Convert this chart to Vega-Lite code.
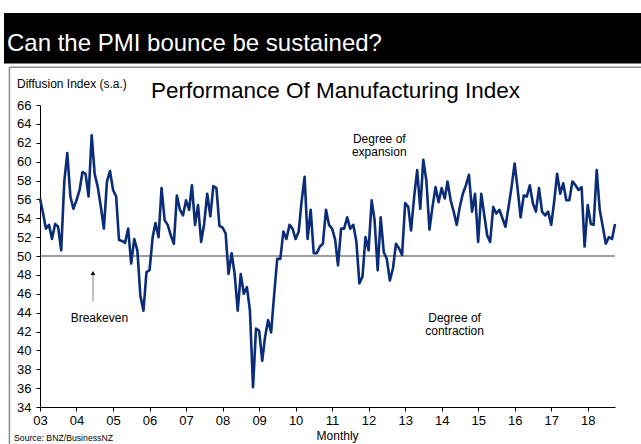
{
  "$schema": "https://vega.github.io/schema/vega-lite/v6.json",
  "width": 575,
  "height": 302,
  "autosize": {"type": "none"},
  "padding": {"left": 40, "top": 105, "right": 26, "bottom": 37},
  "background": "white",
  "config": {
    "font": "Liberation Sans",
    "view": {"stroke": null},
    "axis": {
      "grid": false,
      "title": null,
      "labelFont": "Liberation Sans",
      "labelFontSize": 13,
      "labelColor": "#000000",
      "labelOverlap": false,
      "labelFlush": false,
      "domainColor": "#000000",
      "domainWidth": 1,
      "tickColor": "#000000",
      "tickSize": 4
    }
  },
  "layer": [
    {
      "data": {"values": [{}]},
      "mark": {"type": "rect", "color": "#000000"},
      "encoding": {
        "x": {"datum": {"year": 2002, "month": 1, "date": 6, "utc": true}, "type": "temporal"},
        "x2": {"datum": {"year": 2019, "month": 12, "date": 1, "utc": true}},
        "y": {"datum": 75.75, "type": "quantitative"},
        "y2": {"datum": 70.4}
      }
    },
    {
      "data": {"values": [{}]},
      "mark": {"type": "text", "text": "Can the PMI bounce be sustained?", "color": "#ffffff", "fontSize": 24, "align": "left", "baseline": "alphabetic"},
      "encoding": {
        "x": {"datum": {"year": 2002, "month": 2, "date": 5, "utc": true}, "type": "temporal"},
        "y": {"datum": 71.77, "type": "quantitative"}
      }
    },
    {
      "data": {"values": [{}]},
      "mark": {"type": "rule", "color": "#8c8c8c", "strokeWidth": 1.5},
      "encoding": {
        "x": {"datum": {"year": 2002, "month": 3, "date": 1, "utc": true}, "type": "temporal"},
        "x2": {"datum": {"year": 2019, "month": 12, "date": 1, "utc": true}},
        "y": {"datum": 70.0, "type": "quantitative"}
      }
    },
    {
      "data": {"values": [{}]},
      "mark": {"type": "rule", "color": "#8c8c8c", "strokeWidth": 1.5},
      "encoding": {
        "x": {"datum": {"year": 2002, "month": 3, "date": 1, "utc": true}, "type": "temporal"},
        "y": {"datum": 70.0, "type": "quantitative"},
        "y2": {"datum": 29.0}
      }
    },
    {
      "data": {"values": [{}]},
      "mark": {"type": "rule", "color": "#404040", "strokeWidth": 1.2},
      "encoding": {
        "x": {"datum": {"year": 2003, "month": 1, "date": 1, "utc": true}, "type": "temporal"},
        "x2": {"datum": {"year": 2018, "month": 10, "date": 1, "utc": true}},
        "y": {"datum": 50, "type": "quantitative"}
      }
    },
    {
      "data": {
        "values": [
          {"month": "2003-01-01", "pmi": 56.1}, {"month": "2003-02-01", "pmi": 54.5}, {"month": "2003-03-01", "pmi": 52.9}, {"month": "2003-04-01", "pmi": 53.3},
          {"month": "2003-05-01", "pmi": 51.8}, {"month": "2003-06-01", "pmi": 53.4}, {"month": "2003-07-01", "pmi": 53.1}, {"month": "2003-08-01", "pmi": 50.6},
          {"month": "2003-09-01", "pmi": 57.9}, {"month": "2003-10-01", "pmi": 60.9}, {"month": "2003-11-01", "pmi": 56.3}, {"month": "2003-12-01", "pmi": 55.0},
          {"month": "2004-01-01", "pmi": 55.9}, {"month": "2004-02-01", "pmi": 57.0}, {"month": "2004-03-01", "pmi": 58.9}, {"month": "2004-04-01", "pmi": 58.7},
          {"month": "2004-05-01", "pmi": 56.3}, {"month": "2004-06-01", "pmi": 62.8}, {"month": "2004-07-01", "pmi": 58.7}, {"month": "2004-08-01", "pmi": 57.3},
          {"month": "2004-09-01", "pmi": 55.2}, {"month": "2004-10-01", "pmi": 52.9}, {"month": "2004-11-01", "pmi": 57.9}, {"month": "2004-12-01", "pmi": 59.0},
          {"month": "2005-01-01", "pmi": 57.0}, {"month": "2005-02-01", "pmi": 56.3}, {"month": "2005-03-01", "pmi": 51.7}, {"month": "2005-04-01", "pmi": 51.6},
          {"month": "2005-05-01", "pmi": 51.4}, {"month": "2005-06-01", "pmi": 52.9}, {"month": "2005-07-01", "pmi": 49.2}, {"month": "2005-08-01", "pmi": 51.8},
          {"month": "2005-09-01", "pmi": 50.6}, {"month": "2005-10-01", "pmi": 45.8}, {"month": "2005-11-01", "pmi": 44.2}, {"month": "2005-12-01", "pmi": 48.3},
          {"month": "2006-01-01", "pmi": 48.5}, {"month": "2006-02-01", "pmi": 52.0}, {"month": "2006-03-01", "pmi": 53.5}, {"month": "2006-04-01", "pmi": 52.0},
          {"month": "2006-05-01", "pmi": 57.2}, {"month": "2006-06-01", "pmi": 53.8}, {"month": "2006-07-01", "pmi": 53.3}, {"month": "2006-08-01", "pmi": 52.2},
          {"month": "2006-09-01", "pmi": 51.3}, {"month": "2006-10-01", "pmi": 56.4}, {"month": "2006-11-01", "pmi": 54.9}, {"month": "2006-12-01", "pmi": 54.3},
          {"month": "2007-01-01", "pmi": 55.9}, {"month": "2007-02-01", "pmi": 54.9}, {"month": "2007-03-01", "pmi": 57.5}, {"month": "2007-04-01", "pmi": 53.3},
          {"month": "2007-05-01", "pmi": 55.4}, {"month": "2007-06-01", "pmi": 51.5}, {"month": "2007-07-01", "pmi": 53.4}, {"month": "2007-08-01", "pmi": 56.6},
          {"month": "2007-09-01", "pmi": 54.2}, {"month": "2007-10-01", "pmi": 57.4}, {"month": "2007-11-01", "pmi": 57.2}, {"month": "2007-12-01", "pmi": 53.2},
          {"month": "2008-01-01", "pmi": 53.0}, {"month": "2008-02-01", "pmi": 52.4}, {"month": "2008-03-01", "pmi": 48.1}, {"month": "2008-04-01", "pmi": 50.3},
          {"month": "2008-05-01", "pmi": 48.1}, {"month": "2008-06-01", "pmi": 44.2}, {"month": "2008-07-01", "pmi": 48.1}, {"month": "2008-08-01", "pmi": 46.0},
          {"month": "2008-09-01", "pmi": 46.7}, {"month": "2008-10-01", "pmi": 44.2}, {"month": "2008-11-01", "pmi": 36.1}, {"month": "2008-12-01", "pmi": 42.3},
          {"month": "2009-01-01", "pmi": 42.1}, {"month": "2009-02-01", "pmi": 38.9}, {"month": "2009-03-01", "pmi": 41.4}, {"month": "2009-04-01", "pmi": 43.2},
          {"month": "2009-05-01", "pmi": 41.9}, {"month": "2009-06-01", "pmi": 46.0}, {"month": "2009-07-01", "pmi": 49.7}, {"month": "2009-08-01", "pmi": 49.7},
          {"month": "2009-09-01", "pmi": 52.6}, {"month": "2009-10-01", "pmi": 51.8}, {"month": "2009-11-01", "pmi": 53.3}, {"month": "2009-12-01", "pmi": 52.9},
          {"month": "2010-01-01", "pmi": 51.8}, {"month": "2010-02-01", "pmi": 52.6}, {"month": "2010-03-01", "pmi": 55.7}, {"month": "2010-04-01", "pmi": 58.4},
          {"month": "2010-05-01", "pmi": 51.8}, {"month": "2010-06-01", "pmi": 54.9}, {"month": "2010-07-01", "pmi": 50.3}, {"month": "2010-08-01", "pmi": 50.3},
          {"month": "2010-09-01", "pmi": 51.0}, {"month": "2010-10-01", "pmi": 51.3}, {"month": "2010-11-01", "pmi": 54.9}, {"month": "2010-12-01", "pmi": 53.3},
          {"month": "2011-01-01", "pmi": 52.9}, {"month": "2011-02-01", "pmi": 51.7}, {"month": "2011-03-01", "pmi": 49.0}, {"month": "2011-04-01", "pmi": 52.9},
          {"month": "2011-05-01", "pmi": 52.9}, {"month": "2011-06-01", "pmi": 54.1}, {"month": "2011-07-01", "pmi": 52.9}, {"month": "2011-08-01", "pmi": 53.3},
          {"month": "2011-09-01", "pmi": 51.5}, {"month": "2011-10-01", "pmi": 47.1}, {"month": "2011-11-01", "pmi": 47.8}, {"month": "2011-12-01", "pmi": 52.0},
          {"month": "2012-01-01", "pmi": 50.6}, {"month": "2012-02-01", "pmi": 55.9}, {"month": "2012-03-01", "pmi": 53.8}, {"month": "2012-04-01", "pmi": 48.5},
          {"month": "2012-05-01", "pmi": 54.1}, {"month": "2012-06-01", "pmi": 50.4}, {"month": "2012-07-01", "pmi": 49.7}, {"month": "2012-08-01", "pmi": 47.4},
          {"month": "2012-09-01", "pmi": 48.7}, {"month": "2012-10-01", "pmi": 51.3}, {"month": "2012-11-01", "pmi": 50.8}, {"month": "2012-12-01", "pmi": 50.1},
          {"month": "2013-01-01", "pmi": 55.6}, {"month": "2013-02-01", "pmi": 55.2}, {"month": "2013-03-01", "pmi": 52.7}, {"month": "2013-04-01", "pmi": 56.3},
          {"month": "2013-05-01", "pmi": 59.1}, {"month": "2013-06-01", "pmi": 55.0}, {"month": "2013-07-01", "pmi": 60.2}, {"month": "2013-08-01", "pmi": 58.0},
          {"month": "2013-09-01", "pmi": 52.8}, {"month": "2013-10-01", "pmi": 55.2}, {"month": "2013-11-01", "pmi": 57.3}, {"month": "2013-12-01", "pmi": 55.7},
          {"month": "2014-01-01", "pmi": 57.2}, {"month": "2014-02-01", "pmi": 56.1}, {"month": "2014-03-01", "pmi": 57.9}, {"month": "2014-04-01", "pmi": 55.9},
          {"month": "2014-05-01", "pmi": 54.7}, {"month": "2014-06-01", "pmi": 53.3}, {"month": "2014-07-01", "pmi": 55.2}, {"month": "2014-08-01", "pmi": 56.6},
          {"month": "2014-09-01", "pmi": 57.5}, {"month": "2014-10-01", "pmi": 58.6}, {"month": "2014-11-01", "pmi": 54.7}, {"month": "2014-12-01", "pmi": 56.6},
          {"month": "2015-01-01", "pmi": 51.5}, {"month": "2015-02-01", "pmi": 56.6}, {"month": "2015-03-01", "pmi": 54.5}, {"month": "2015-04-01", "pmi": 52.2},
          {"month": "2015-05-01", "pmi": 51.5}, {"month": "2015-06-01", "pmi": 55.2}, {"month": "2015-07-01", "pmi": 54.5}, {"month": "2015-08-01", "pmi": 54.9},
          {"month": "2015-09-01", "pmi": 54.0}, {"month": "2015-10-01", "pmi": 53.1}, {"month": "2015-11-01", "pmi": 55.2}, {"month": "2015-12-01", "pmi": 57.3},
          {"month": "2016-01-01", "pmi": 59.8}, {"month": "2016-02-01", "pmi": 57.0}, {"month": "2016-03-01", "pmi": 54.1}, {"month": "2016-04-01", "pmi": 56.4},
          {"month": "2016-05-01", "pmi": 56.3}, {"month": "2016-06-01", "pmi": 57.5}, {"month": "2016-07-01", "pmi": 55.6}, {"month": "2016-08-01", "pmi": 54.7},
          {"month": "2016-09-01", "pmi": 57.2}, {"month": "2016-10-01", "pmi": 54.7}, {"month": "2016-11-01", "pmi": 54.3}, {"month": "2016-12-01", "pmi": 54.7},
          {"month": "2017-01-01", "pmi": 53.3}, {"month": "2017-02-01", "pmi": 55.9}, {"month": "2017-03-01", "pmi": 58.7}, {"month": "2017-04-01", "pmi": 56.6},
          {"month": "2017-05-01", "pmi": 57.7}, {"month": "2017-06-01", "pmi": 55.9}, {"month": "2017-07-01", "pmi": 55.9}, {"month": "2017-08-01", "pmi": 57.9},
          {"month": "2017-09-01", "pmi": 57.5}, {"month": "2017-10-01", "pmi": 57.0}, {"month": "2017-11-01", "pmi": 57.3}, {"month": "2017-12-01", "pmi": 51.0},
          {"month": "2018-01-01", "pmi": 55.4}, {"month": "2018-02-01", "pmi": 53.4}, {"month": "2018-03-01", "pmi": 53.3}, {"month": "2018-04-01", "pmi": 59.1},
          {"month": "2018-05-01", "pmi": 54.9}, {"month": "2018-06-01", "pmi": 53.1}, {"month": "2018-07-01", "pmi": 51.3}, {"month": "2018-08-01", "pmi": 52.0},
          {"month": "2018-09-01", "pmi": 51.8}, {"month": "2018-10-01", "pmi": 53.4}
        ]
      },
      "mark": {"type": "line", "color": "#0b2c77", "strokeWidth": 2.6, "strokeJoin": "round"},
      "encoding": {
        "x": {
          "field": "month",
          "type": "temporal",
          "scale": {
            "type": "utc",
            "domain": [{"year": 2003, "month": 1, "date": 1, "utc": true}, {"year": 2018, "month": 10, "date": 1, "utc": true}],
            "nice": false
          },
          "axis": {
            "tickCount": {"interval": "year", "step": 1},
            "format": "%y",
            "labelPadding": 3,
            "labelFlush": false,
            "labelOverlap": false
          }
        },
        "y": {
          "field": "pmi",
          "type": "quantitative",
          "scale": {"domain": [34, 66], "nice": false, "zero": false},
          "axis": {
            "tickCount": 16,
            "labelPadding": 5,
            "labelFlush": false,
            "labelOverlap": false
          }
        }
      }
    },
    {
      "data": {"values": [{}]},
      "mark": {"type": "text", "text": "Performance Of Manufacturing Index", "color": "#000000", "fontSize": 22.5, "align": "center", "baseline": "alphabetic"},
      "encoding": {
        "x": {"datum": {"year": 2011, "month": 2, "date": 4, "utc": true}, "type": "temporal"},
        "y": {"datum": 66.79, "type": "quantitative"}
      }
    },
    {
      "data": {"values": [{}]},
      "mark": {"type": "text", "text": "Diffusion Index (s.a.)", "color": "#000000", "fontSize": 12, "align": "left", "baseline": "alphabetic"},
      "encoding": {
        "x": {"datum": {"year": 2002, "month": 5, "date": 16, "utc": true}, "type": "temporal"},
        "y": {"datum": 67.8, "type": "quantitative"}
      }
    },
    {
      "data": {"values": [{}]},
      "mark": {"type": "text", "text": ["Degree of", "expansion"], "lineHeight": 13, "color": "#000000", "fontSize": 12, "align": "center", "baseline": "alphabetic"},
      "encoding": {
        "x": {"datum": {"year": 2012, "month": 4, "date": 17, "utc": true}, "type": "temporal"},
        "y": {"datum": 61.94, "type": "quantitative"}
      }
    },
    {
      "data": {"values": [{}]},
      "mark": {"type": "text", "text": ["Degree of", "contraction"], "lineHeight": 13.5, "color": "#000000", "fontSize": 12, "align": "center", "baseline": "alphabetic"},
      "encoding": {
        "x": {"datum": {"year": 2014, "month": 5, "date": 10, "utc": true}, "type": "temporal"},
        "y": {"datum": 43.04, "type": "quantitative"}
      }
    },
    {
      "data": {"values": [{}]},
      "mark": {"type": "text", "text": "Breakeven", "color": "#000000", "fontSize": 12, "align": "center", "baseline": "alphabetic"},
      "encoding": {
        "x": {"datum": {"year": 2004, "month": 8, "date": 17, "utc": true}, "type": "temporal"},
        "y": {"datum": 43.04, "type": "quantitative"}
      }
    },
    {
      "data": {"values": [{}]},
      "mark": {"type": "rule", "color": "#808080", "strokeWidth": 1},
      "encoding": {
        "x": {"datum": {"year": 2004, "month": 6, "date": 14, "utc": true}, "type": "temporal"},
        "y": {"datum": 45.16, "type": "quantitative"},
        "y2": {"datum": 48.3}
      }
    },
    {
      "data": {"values": [{}]},
      "mark": {"type": "point", "shape": "triangle-up", "filled": true, "color": "#000000", "size": 22, "opacity": 1},
      "encoding": {
        "x": {"datum": {"year": 2004, "month": 6, "date": 14, "utc": true}, "type": "temporal"},
        "y": {"datum": 48.2, "type": "quantitative"}
      }
    },
    {
      "data": {"values": [{}]},
      "mark": {"type": "text", "text": "Source: BNZ/BusinessNZ", "color": "#000000", "fontSize": 8.7, "align": "left", "baseline": "alphabetic"},
      "encoding": {
        "x": {"datum": {"year": 2002, "month": 4, "date": 16, "utc": true}, "type": "temporal"},
        "y": {"datum": 30.4, "type": "quantitative"}
      }
    },
    {
      "data": {"values": [{}]},
      "mark": {"type": "text", "text": "Monthly", "color": "#000000", "fontSize": 12, "align": "center", "baseline": "alphabetic"},
      "encoding": {
        "x": {"datum": {"year": 2011, "month": 2, "date": 25, "utc": true}, "type": "temporal"},
        "y": {"datum": 30.55, "type": "quantitative"}
      }
    }
  ]
}
